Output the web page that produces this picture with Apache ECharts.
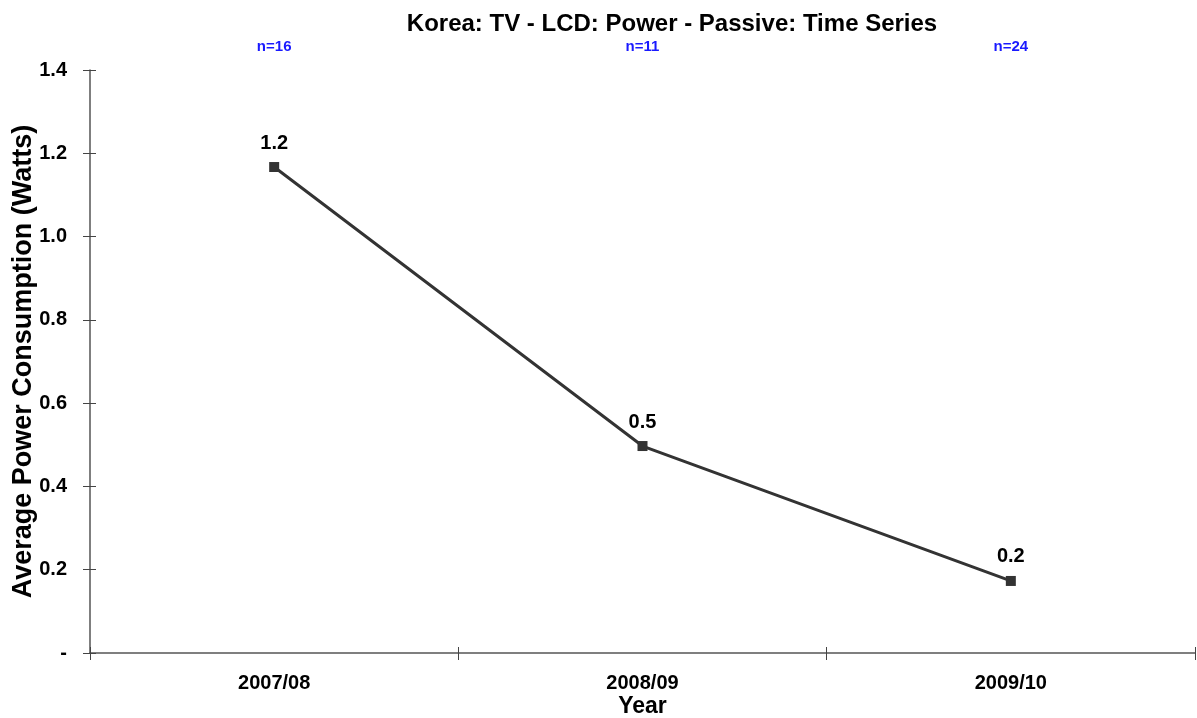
<!DOCTYPE html>
<html>
<head>
<meta charset="utf-8">
<script src="https://cdn.jsdelivr.net/npm/echarts@6/dist/echarts.min.js"></script>
<style>
  html, body { margin: 0; padding: 0; background: #fff; }
  #chart { width: 1197px; height: 718px; }
</style>
</head>
<body>
<div id="chart"></div>
<script>
// Survey years, sample counts and average passive-mode power (W)
const years = ['2007/08', '2008/09', '2009/10'];
const sampleCounts = ['n=16', 'n=11', 'n=24'];
const avgPower = [1.167, 0.497, 0.173];

const FONT = '"Liberation Sans", Arial, sans-serif';
const chart = echarts.init(document.getElementById('chart'), null, { renderer: 'canvas' });

const axisLine = { show: true, lineStyle: { color: '#555', width: 1.5 } };
const tickStyle = { color: '#444', width: 1 };

chart.setOption({
  animation: false,
  backgroundColor: '#fff',
  title: {
    text: 'Korea: TV - LCD: Power - Passive: Time Series',
    left: 667, top: 7, textAlign: 'center',
    textStyle: { fontFamily: FONT, fontWeight: 'bold', fontSize: 24, color: '#000' }
  },
  grid: { left: 90, right: 2, top: 70, bottom: 65, containLabel: false, outerBoundsMode: 'none' },
  xAxis: [
    {
      type: 'category', data: years, position: 'bottom', boundaryGap: true,
      name: 'Year', nameLocation: 'middle', nameGap: 42, nameMoveOverlap: false,
      nameTextStyle: { fontFamily: FONT, fontWeight: 'bold', fontSize: 23, color: '#000' },
      axisLine: axisLine,
      axisTick: { show: true, length: 7, lineStyle: tickStyle },
      axisLabel: { margin: 20, fontFamily: FONT, fontWeight: 'bold', fontSize: 20, color: '#000' }
    },
    {
      // inner half of the crossing ticks
      type: 'category', data: years, position: 'bottom', boundaryGap: true,
      axisLine: { show: false },
      axisTick: { show: true, inside: true, length: 6, lineStyle: tickStyle },
      axisLabel: { show: false }
    },
    {
      // sample sizes above each year
      type: 'category', data: sampleCounts, position: 'top', boundaryGap: true,
      axisLine: { show: false }, axisTick: { show: false },
      axisLabel: { margin: 16, fontFamily: FONT, fontWeight: 'bold', fontSize: 15, color: '#1a1aff' }
    }
  ],
  yAxis: [
    {
      type: 'value', min: 0, max: 1.4, interval: 0.2,
      name: 'Average Power Consumption (Watts)', nameLocation: 'middle', nameGap: 53, nameMoveOverlap: false,
      nameTextStyle: { fontFamily: FONT, fontWeight: 'bold', fontSize: 27, color: '#000' },
      axisLine: axisLine,
      axisTick: { show: true, length: 7, lineStyle: tickStyle },
      splitLine: { show: false },
      axisLabel: {
        margin: 23, fontFamily: FONT, fontWeight: 'bold', fontSize: 20, color: '#000',
        formatter: v => (v === 0 ? '-' : v.toFixed(1))
      }
    },
    {
      type: 'value', min: 0, max: 1.4, interval: 0.2, position: 'left',
      axisLine: { show: false },
      axisTick: { show: true, inside: true, length: 6, lineStyle: tickStyle },
      splitLine: { show: false },
      axisLabel: { show: false }
    }
  ],
  series: [{
    type: 'line',
    data: avgPower,
    xAxisIndex: 0, yAxisIndex: 0,
    symbol: 'rect', symbolSize: 10,
    lineStyle: { color: '#333', width: 3 },
    itemStyle: { color: '#333' },
    label: {
      show: true, position: 'top', distance: 9,
      fontFamily: FONT, fontWeight: 'bold', fontSize: 20, color: '#000',
      formatter: p => p.value.toFixed(1)
    }
  }]
});
</script>
</body>
</html>
